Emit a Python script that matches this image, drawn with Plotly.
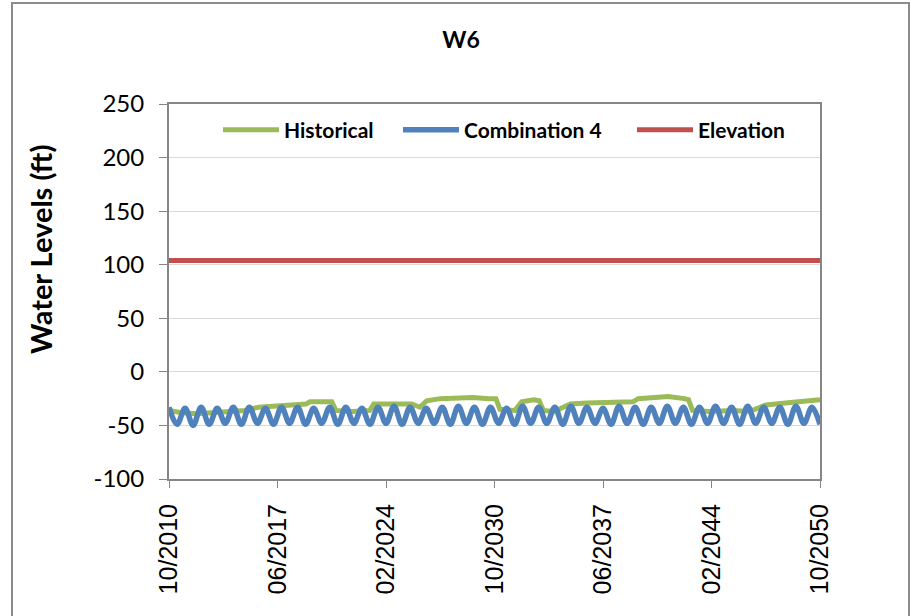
import numpy as np
import pandas as pd
import plotly.graph_objects as go

# ---- data ----
start = pd.Timestamp("2010-10-01")
end = pd.Timestamp("2050-10-01")

# Combination 4: alternating seasonal highs/lows (ft)
combo_values = [
    -33, -49, -34, -50, -33, -49, -34, -48, -33, -49, -33, -48, -34, -49, -33, -48, -33, -49, -34, -48,
    -33, -49, -33, -48, -34, -49, -33, -48, -32, -49, -33, -48, -34, -48, -33, -49, -32, -48, -33, -49,
    -33, -48, -34, -49, -32, -48, -33, -48, -33, -49, -32, -48, -33, -48, -34, -49, -32, -48, -33, -49,
    -33, -48, -32, -48, -33, -49, -33, -48, -32, -48, -33, -49, -32, -48, -33, -48, -33, -49, -32, -48,
    -33, -49,
]
combo_dates = pd.to_datetime(np.linspace(start.value, end.value, len(combo_values)))

hist_dates = pd.to_datetime([
    "2010-10-01", "2011-06-01", "2012-06-01", "2013-06-01", "2014-06-01", "2015-06-01",
    "2016-04-01", "2017-06-01", "2018-06-01", "2019-03-01", "2019-06-01", "2020-06-01",
    "2020-10-01", "2021-01-01", "2022-01-01", "2023-02-01", "2023-05-01", "2024-06-01",
    "2025-09-01", "2026-03-01", "2026-08-01", "2027-06-01", "2028-06-01", "2029-06-01",
    "2030-06-01", "2030-11-01", "2031-02-01", "2032-01-01", "2032-06-01", "2033-03-01",
    "2033-07-01", "2033-10-01", "2034-06-01", "2035-01-01", "2035-06-01", "2036-06-01",
    "2037-06-01", "2038-06-01", "2039-04-01", "2039-08-01", "2040-06-01", "2041-06-01",
    "2042-06-01", "2042-09-01", "2042-12-01", "2044-01-01", "2045-06-01", "2046-06-01",
    "2047-06-01", "2048-06-01", "2049-06-01", "2050-10-01",
])
hist_values = [
    -36, -38, -39, -38, -37, -36,
    -33, -32, -31, -30, -28, -28,
    -28, -36, -37, -36, -30, -30,
    -30, -33, -27, -25, -24, -24,
    -25, -25, -35, -36, -28, -26,
    -27, -36, -37, -33, -30, -29,
    -29, -28, -28, -25, -24, -23,
    -25, -26, -36, -37, -36, -37,
    -31, -29, -28, -26,
]

elev_dates = pd.to_datetime(["2010-10-01", "2050-10-01"])
elev_values = [104, 104]

tick_dates = pd.to_datetime(["2010-10-01", "2017-06-01", "2024-02-01", "2030-10-01",
                             "2037-06-01", "2044-02-01", "2050-10-01"])
y_tick_values = [-100, -50, 0, 50, 100, 150, 200, 250]
y_tick_labels = ["-100", "-50", "0", "50", "100", "150", "200", "250"]

# ---- figure ----
W, H = 911, 616
PL, PR, PT, PB = 169, 820, 104, 479
PW, PH = PR - PL, PB - PT


def px_x(sx):  # screen x -> paper x
    return (sx - PL) / PW


def px_y(sy):  # screen y -> paper y
    return (PB - sy) / PH


fig = go.Figure()
fig.add_trace(go.Scatter(x=hist_dates, y=hist_values, mode="lines", name="Historical",
                         legend="legend",
                         line=dict(color="#9BBB59", width=5)))
fig.add_trace(go.Scatter(x=combo_dates, y=combo_values, mode="lines", name="Combination 4",
                         legend="legend2",
                         line=dict(color="#4F81BD", width=5.5, shape="spline", smoothing=1)))
fig.add_trace(go.Scatter(x=elev_dates, y=elev_values, mode="lines", name="Elevation",
                         legend="legend3",
                         line=dict(color="#C0504D", width=5)))

leg_common = dict(orientation="h", xanchor="left", yanchor="middle", y=px_y(130),
                  font=dict(size=21, family="Lato", color="black", weight="bold"),
                  bgcolor="rgba(0,0,0,0)", itemwidth=56)

fig.update_layout(
    width=W, height=H,
    margin=dict(l=PL, r=W - PR, t=PT, b=H - PB),
    paper_bgcolor="white", plot_bgcolor="white",
    font=dict(family="Lato, Liberation Sans, sans-serif", color="black"),
    title=dict(text="<b>W6</b>", x=461 / W, xref="container", xanchor="center",
               y=1 - 40 / H, yref="container", yanchor="middle",
               font=dict(size=23, family="Lato", color="black")),
    showlegend=True,
    legend=dict(x=px_x(218), **leg_common),
    legend2=dict(x=px_x(398), **leg_common),
    legend3=dict(x=px_x(632), **leg_common),
    xaxis=dict(type="date", range=[start, end], tickvals=tick_dates, tickformat="%m/%Y",
               tickangle=-90, ticks="outside", ticklen=7, tickcolor="#868686",
               showline=True, linecolor="#868686", linewidth=2, mirror=True,
               showgrid=False, zeroline=False, ticklabelstandoff=6,
               tickfont=dict(size=25, family="Liberation Sans", color="black")),
    yaxis=dict(range=[-100, 250], tickvals=y_tick_values, ticktext=y_tick_labels,
               ticks="outside", ticklen=8,
               tickcolor="#868686", showline=True, linecolor="#868686", linewidth=2,
               mirror=True, showgrid=True, gridcolor="#D9D9D9", gridwidth=1,
               zeroline=False, ticklabelstandoff=10,
               tickfont=dict(size=24, family="Lato", color="black")),
    annotations=[dict(text="<b>Water Levels (ft)</b>", textangle=-90,
                      xref="paper", yref="paper", x=px_x(40), y=px_y(250),
                      xanchor="center", yanchor="middle", showarrow=False,
                      font=dict(size=29, family="Lato", color="black"))],
    shapes=[dict(type="rect", xref="paper", yref="paper",
                 x0=px_x(12), x1=px_x(909),
                 y0=px_y(640), y1=px_y(3),
                 line=dict(color="#8C8C8C", width=2), fillcolor="rgba(0,0,0,0)", layer="below")],
)

fig.write_html("out.html", config={"displayModeBar": False},
               post_script="document.body.style.margin='0';document.body.style.overflow='hidden';")
